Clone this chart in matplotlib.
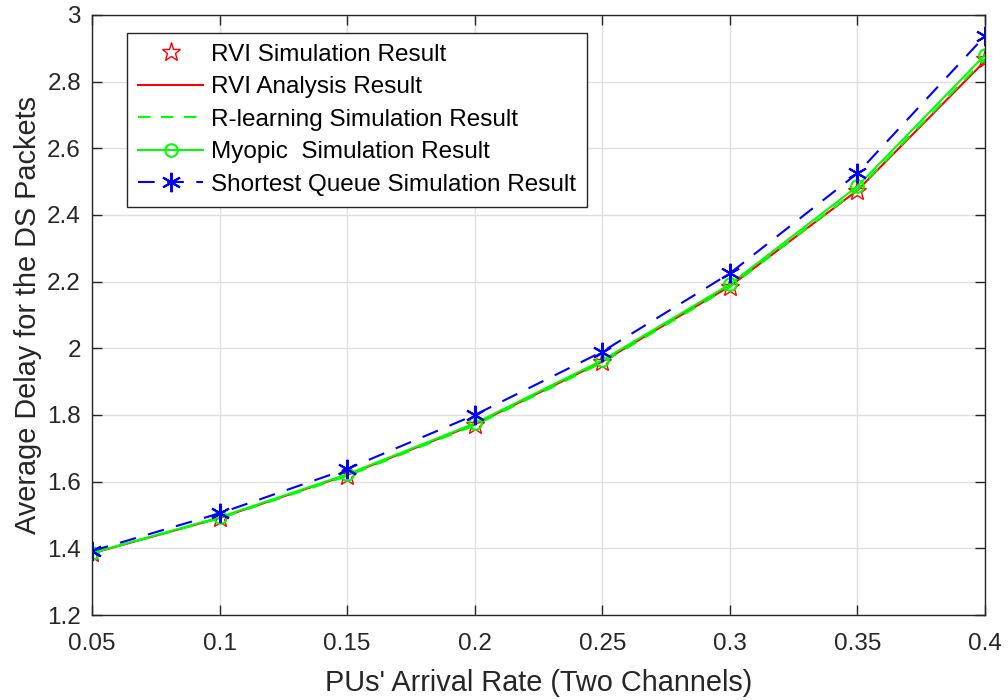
import numpy as np
import matplotlib
matplotlib.use("Agg")
import matplotlib.pyplot as plt

plt.rcParams['font.family'] = ['Liberation Sans', 'DejaVu Sans']

# PU arrival rate values
rate = [0.05, 0.1, 0.15, 0.2, 0.25, 0.3, 0.35, 0.4]

# average delay readings for each scheme
rvi_sim = [1.385, 1.490, 1.618, 1.770, 1.958, 2.183, 2.472, 2.868]
rvi_ana = [1.385, 1.491, 1.620, 1.772, 1.960, 2.186, 2.474, 2.862]
rlearn_sim = [1.386, 1.490, 1.617, 1.769, 1.957, 2.184, 2.476, 2.868]
myopic_sim = [1.386, 1.493, 1.622, 1.775, 1.964, 2.192, 2.486, 2.880]
shortest_sim = [1.392, 1.505, 1.638, 1.800, 1.990, 2.225, 2.525, 2.937]

xticks = [0.05, 0.1, 0.15, 0.2, 0.25, 0.3, 0.35, 0.4]
xticklabels = ['0.05', '0.1', '0.15', '0.2', '0.25', '0.3', '0.35', '0.4']
yticks = [1.2, 1.4, 1.6, 1.8, 2.0, 2.2, 2.4, 2.6, 2.8, 3.0]
yticklabels = ['1.2', '1.4', '1.6', '1.8', '2', '2.2', '2.4', '2.6', '2.8', '3']

fig = plt.figure(figsize=(10.08, 7.0), dpi=100)
ax = fig.add_axes([92 / 1008, 85 / 700, 893 / 1008, 600 / 700])

ax.plot(rate, rvi_sim, linestyle='none', marker='*', markersize=14,
        markerfacecolor='none', markeredgecolor='red', markeredgewidth=1.0,
        label='RVI Simulation Result')
ax.plot(rate, rvi_ana, color='red', linewidth=1.5, label='RVI Analysis Result')
ax.plot(rate, rlearn_sim, color='#00ff00', linestyle=(0, (6, 5)), linewidth=1.5,
        label='R-learning Simulation Result')
ax.plot(rate, myopic_sim, color='#00ff00', linewidth=1.5, marker='o', markersize=9,
        markerfacecolor='none', markeredgewidth=1.5, label='Myopic  Simulation Result')
ax.plot(rate, shortest_sim, color='blue', linestyle=(0, (8, 6)), linewidth=1.5,
        marker=(6, 2, 0), markersize=14, markeredgewidth=1.5,
        label='Shortest Queue Simulation Result')

ax.set_xlim(0.05, 0.4)
ax.set_ylim(1.2, 3.0)
ax.set_xticks(xticks)
ax.set_xticklabels(xticklabels)
ax.set_yticks(yticks)
ax.set_yticklabels(yticklabels)
ax.grid(True, color='#dfdfdf', linewidth=1.0)
ax.set_axisbelow(True)

for s in ax.spines.values():
    s.set_color('#262626')
    s.set_linewidth(1.0)
ax.tick_params(direction='in', length=7, width=1.0, colors='#262626',
               top=True, right=True, labelsize=17.5)
ax.tick_params(axis='x', pad=13)
ax.tick_params(axis='y', pad=8)

ax.set_xlabel("PUs' Arrival Rate (Two Channels)", fontsize=20.8, color='#262626', labelpad=10)
ax.set_ylabel('Average Delay for the DS Packets', fontsize=20.8, color='#262626', labelpad=4)

leg = ax.legend(loc='upper left', bbox_to_anchor=(0.039, 0.97), fontsize=17.5,
                frameon=True, fancybox=False, edgecolor='#262626', framealpha=1.0,
                handlelength=2.7, handletextpad=0.3, labelspacing=0.43,
                borderpad=0.45, borderaxespad=0)
leg.get_frame().set_linewidth(1.0)

fig.savefig('out.png', dpi=100)
